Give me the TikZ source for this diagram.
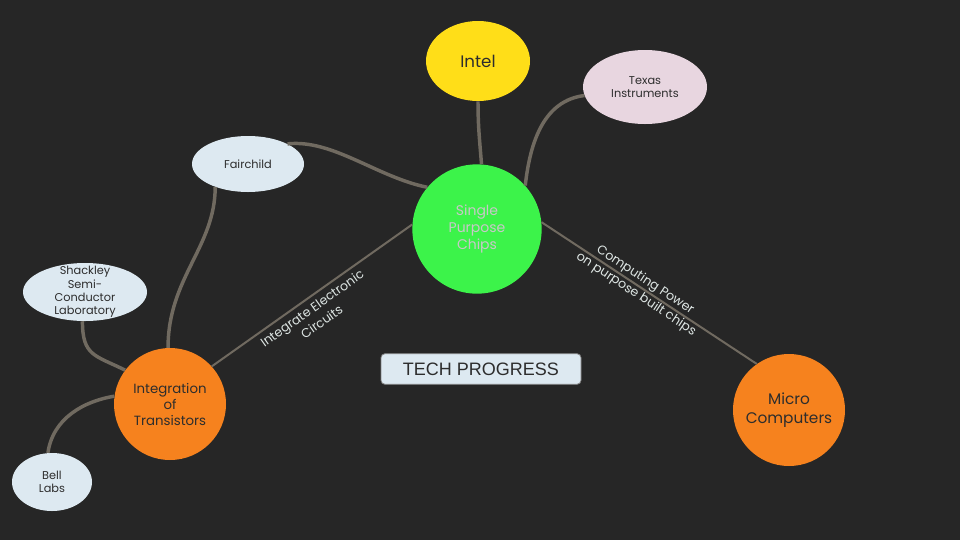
\documentclass[tikz,border=0pt]{standalone}
\usepackage{fontspec}
\setmainfont{Poppins}
\newfontfamily\boxfont{Liberation Sans}
\usetikzlibrary{shapes.geometric}

\definecolor{bgcolor}{RGB}{38,38,38}
\definecolor{chipgreen}{RGB}{60,243,74}
\definecolor{inteljaune}{RGB}{255,222,24}
\definecolor{techorange}{RGB}{246,130,30}
\definecolor{paleblue}{RGB}{221,233,241}
\definecolor{palepink}{RGB}{232,214,224}
\definecolor{linkgray}{RGB}{112,106,96}
\definecolor{labelgray}{RGB}{222,230,228}
\definecolor{darktext}{RGB}{45,45,45}

\begin{document}
\begin{tikzpicture}[
    x=0.75pt, y=-0.75pt,
    topic style/.style={circle, inner sep=0pt, align=center, text=darktext},
    leaf style/.style={ellipse, inner sep=-5pt, align=center, text=darktext,
        font=\fontsize{8.5}{10}\selectfont},
    link style/.style={line width=2.6pt, linkgray},
    flow style/.style={line width=1.5pt, linkgray},
    flow label/.style={sloped, align=center, text=labelgray,
        font=\fontsize{9.5}{12.5}\selectfont}
]

% Draw the background
\fill[bgcolor] (0,0) rectangle (960,540);
\useasboundingbox (0,0) rectangle (960,540);

% Draw the main topics
\node[topic style, fill=chipgreen, minimum size=97pt, text={rgb,255:red,200;green,200;blue,200},
    font=\fontsize{10.5}{13}\selectfont] (chips) at (477,229) {Single\\Purpose\\Chips};
\node[topic style, fill=techorange, minimum size=84pt,
    font=\fontsize{10}{12}\selectfont] (transistors) at (170,404) {Integration\\of\\Transistors};
\node[topic style, fill=techorange, minimum size=84pt,
    font=\fontsize{11.5}{14}\selectfont] (micro) at (789,410) {Micro\\Computers};
\node[ellipse, inner sep=0pt, fill=inteljaune, minimum width=78pt, minimum height=60pt,
    text=darktext, font=\fontsize{12.5}{14}\selectfont] (intel) at (478,61) {Intel};

% Draw the companies
\node[leaf style, fill=palepink, minimum width=93pt, minimum height=55.5pt] (texas) at (645,87) {Texas\\Instruments};
\node[leaf style, fill=paleblue, minimum width=84pt, minimum height=42pt] (fairchild) at (248,164) {Fairchild};
\node[leaf style, fill=paleblue, minimum width=93pt, minimum height=43.5pt] (shockley) at (85,292) {Shackley\\Semi-\\Conductor\\Laboratory};
\node[leaf style, fill=paleblue, minimum width=60pt, minimum height=43.5pt] (bell) at (52,482) {Bell\\Labs};

% Draw the title box
\node[draw=gray, line width=0.6pt, fill=paleblue, rounded corners=3pt, minimum width=150pt,
    minimum height=23pt, text=darktext, font=\boxfont\fontsize{13.5}{15}\selectfont] (title) at (481,369) {TECH PROGRESS};

% Draw the company links
\draw[link style] (intel.south) .. controls +(0,25) and +(-2,-25) .. (chips.86);
\draw[link style] (texas.188) .. controls +(-40,5) and +(5,-45) .. (chips.42);
\draw[link style] (fairchild.27) .. controls +(45,-5) and +(-50,-10) .. (chips.140);
\draw[link style] (fairchild.-145) .. controls +(0,60) and +(0,-70) .. (transistors.92);
\draw[link style] (shockley.-95) .. controls +(0,35) and +(-30,-15) .. (transistors.143);
\draw[link style] (bell.98) .. controls +(5,-35) and +(-30,5) .. (transistors.172);

% Draw the progress links
\draw[flow style] (transistors.42) -- (chips.176)
    node[flow label, below, pos=0.47] {Integrate Electronic\\Circuits};
\draw[flow style] (chips.6) -- (micro.125)
    node[flow label, pos=0.46] {Computing Power\\on purpose built chips};
\end{tikzpicture}
\end{document}
